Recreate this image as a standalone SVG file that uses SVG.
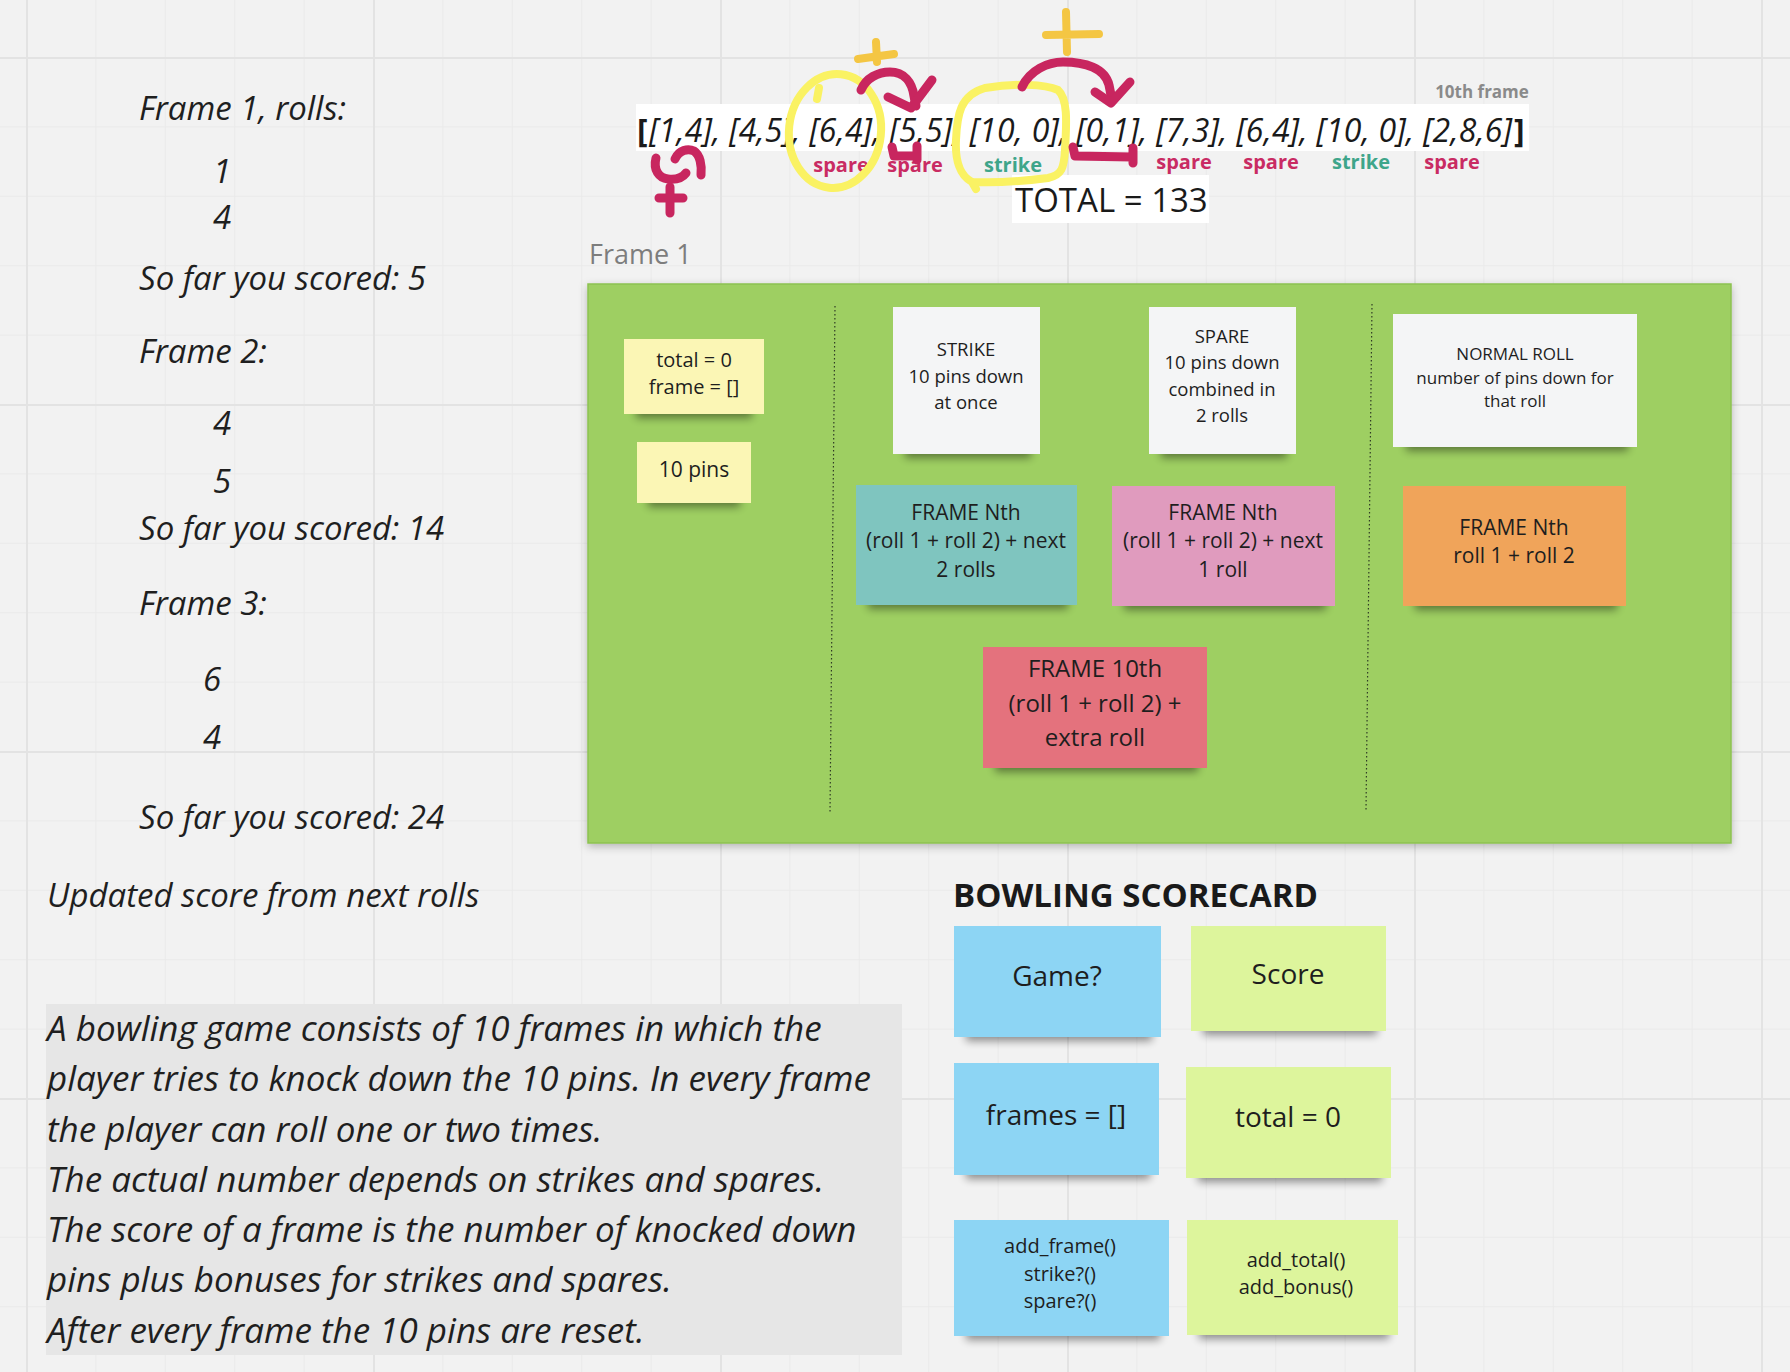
<svg xmlns="http://www.w3.org/2000/svg" width="1790" height="1372" viewBox="0 0 1790 1372">
<defs>
  <pattern id="gridMinor" patternUnits="userSpaceOnUse" x="26" y="57" width="69.4" height="69.4">
    <path d="M0,0.5 H69.4 M0.5,0 V69.4" stroke="#eaeaea" stroke-width="1.2" fill="none"/>
  </pattern>
  <pattern id="gridMajor" patternUnits="userSpaceOnUse" x="26" y="57" width="347" height="347">
    <path d="M0,1 H347 M1,0 V347" stroke="#e3e3e3" stroke-width="2" fill="none"/>
  </pattern>
  <filter id="blur" x="-30%" y="-100%" width="160%" height="300%">
    <feGaussianBlur stdDeviation="4"/>
  </filter>
  <filter id="panelShadow" x="-5%" y="-5%" width="110%" height="110%">
    <feDropShadow dx="0" dy="3" stdDeviation="4" flood-color="#000" flood-opacity="0.25"/>
  </filter>
  <style>
    .hand{font-family:"Open Sans","Liberation Sans",sans-serif;font-style:italic;font-size:33px;fill:#1f1f1f}
    .desc{font-family:"Open Sans","Liberation Sans",sans-serif;font-style:italic;font-size:35px;fill:#1f1f1f}
    .nt{font-family:"Open Sans","Liberation Sans",sans-serif;text-anchor:middle;fill:#1e1e1e}
    .sh{fill:#000;opacity:0.42;filter:url(#blur)}
    .yel{fill:#fbf6b5}
    .wht{fill:#f4f5f6}
    .teal{fill:#7fc5bf}
    .pink{fill:#e09bbe}
    .orng{fill:#f0a45a}
    .red{fill:#e4727d}
    .blue{fill:#8dd5f4}
    .lime{fill:#ddf59c}
    .lbl{font-family:"Open Sans","Liberation Sans",sans-serif;font-weight:bold;font-size:20px;text-anchor:middle}
    .spare{fill:#c92b63}
    .strike{fill:#3ea58a}
    .pinkStroke{fill:none;stroke:#c8265f;stroke-width:9;stroke-linecap:round;stroke-linejoin:round}
    .yelStroke{fill:none;stroke:#faf263;stroke-width:8;stroke-linecap:round;stroke-linejoin:round}
    .plusStroke{fill:none;stroke:#f4c643;stroke-width:8;stroke-linecap:round}
    .divider{fill:none;stroke:#2f3b25;stroke-width:1.2;stroke-dasharray:1.5 2.5}
    .arr{font-family:"Open Sans","Liberation Sans",sans-serif;font-size:32px;fill:#1a1a1a}
  </style>
</defs>

<!-- background -->
<rect x="0" y="0" width="1790" height="1372" fill="#f2f2f2"/>
<rect x="0" y="0" width="1790" height="1372" fill="url(#gridMinor)"/>
<rect x="0" y="0" width="1790" height="1372" fill="url(#gridMajor)"/>

<!-- left notes -->
<g id="rolls-notes">
  <text class="hand" x="139" y="120">Frame 1, rolls:</text>
  <text class="hand" x="213" y="183">1</text>
  <text class="hand" x="213" y="229">4</text>
  <text class="hand" x="139" y="290">So far you scored: 5</text>
  <text class="hand" x="139" y="363">Frame 2:</text>
  <text class="hand" x="213" y="435">4</text>
  <text class="hand" x="213" y="493">5</text>
  <text class="hand" x="139" y="540">So far you scored: 14</text>
  <text class="hand" x="139" y="615">Frame 3:</text>
  <text class="hand" x="203" y="691">6</text>
  <text class="hand" x="203" y="749">4</text>
  <text class="hand" x="139" y="829">So far you scored: 24</text>
  <text class="hand" x="47" y="907">Updated score from next rolls</text>
</g>

<!-- description -->
<g id="description">
  <rect x="46" y="1004" width="856" height="351" fill="#e6e6e6"/>
  <text class="desc" x="47" y="1041">A bowling game consists of 10 frames in which the</text>
  <text class="desc" x="47" y="1091">player tries to knock down the 10 pins. In every frame</text>
  <text class="desc" x="47" y="1142">the player can roll one or two times.</text>
  <text class="desc" x="47" y="1192">The actual number depends on strikes and spares.</text>
  <text class="desc" x="47" y="1242">The score of a frame is the number of knocked down</text>
  <text class="desc" x="47" y="1292">pins plus bonuses for strikes and spares.</text>
  <text class="desc" x="47" y="1343">After every frame the 10 pins are reset.</text>
</g>

<!-- rolls array -->
<g id="rolls-array">
  <rect x="636" y="104" width="893" height="47" fill="#ffffff"/>
  <text class="arr" x="637" y="142" font-weight="bold">[</text>
  <text class="arr" x="649" y="142" font-style="italic" textLength="863" lengthAdjust="spacing">[1,4], [4,5], [6,4], [5,5], [10, 0], [0,1], [7,3], [6,4], [10, 0], [2,8,6]</text>
  <text class="arr" x="1514" y="142" font-weight="bold">]</text>
  <text x="1482" y="98" style="font-family:'Open Sans','Liberation Sans',sans-serif;font-size:17px;font-weight:bold;fill:#8a8a8a;text-anchor:middle">10th frame</text>
  <text class="lbl spare" x="841" y="172">spare</text>
  <text class="lbl spare" x="915" y="172">spare</text>
  <text class="lbl strike" x="1013" y="172">strike</text>
  <text class="lbl spare" x="1184" y="169">spare</text>
  <text class="lbl spare" x="1271" y="169">spare</text>
  <text class="lbl strike" x="1361" y="169">strike</text>
  <text class="lbl spare" x="1452" y="169">spare</text>
</g>

<g id="total">
  <rect x="1012" y="175" width="197" height="48" fill="#ffffff"/>
  <text x="1015" y="212" style="font-family:'Open Sans','Liberation Sans',sans-serif;font-size:33px;fill:#1a1a1a">TOTAL = 133</text>
</g>

<!-- annotations -->
<g id="highlights">
  <ellipse class="yelStroke" cx="835" cy="131" rx="46" ry="57" transform="rotate(6 835 131)"/>
  <path class="yelStroke" d="M817,99 L819,88"/>
  <path class="yelStroke" d="M985,88 C1015,83 1045,84 1058,90 C1069,100 1066,128 1065,150 C1064,168 1062,175 1048,178 C1025,181 995,183 972,182 C960,176 955,160 956,140 C957,115 960,95 985,88 M972,182 L976,189"/>
  <path class="plusStroke" d="M858,59 L894,54 M876,42 L877,62"/>
  <path class="plusStroke" d="M1046,35 L1099,34 M1066,12 L1067,52"/>
</g>

<g id="connectors">
  <path class="pinkStroke" d="M861,90 C866,78 878,72 890,72 C904,72 912,82 914,96 L916,106"/>
  <path class="pinkStroke" d="M888,97 L911,108 L932,80"/>
  <path class="pinkStroke" d="M892,147 L894,156 L917,156 M917,146 L917,160"/>
  <path class="pinkStroke" d="M1022,87 C1030,70 1048,62 1063,62 C1085,62 1105,68 1109,85 L1112,100"/>
  <path class="pinkStroke" d="M1095,92 L1111,103 L1130,82"/>
  <path class="pinkStroke" d="M1073,147 L1075,156 L1132,157 M1133,148 L1133,163"/>
  <path class="pinkStroke" d="M656,158 C653,170 659,178 668,179 C677,180 683,177 686,173"/>
  <path class="pinkStroke" d="M675,159 C679,150 688,148 694,151 C700,155 702,165 701,175"/>
  <path class="pinkStroke" d="M670,187 L670,213 M659,198 L683,198"/>
</g>

<!-- frame panel -->
<text x="589" y="264" style="font-family:'Open Sans','Liberation Sans',sans-serif;font-size:27px;fill:#7d7d7d">Frame 1</text>
<g id="frame-panel">
  <rect x="588" y="284" width="1143" height="559" fill="#9ecf62" stroke="#8cc250" stroke-width="1.5" filter="url(#panelShadow)"/>
  <path class="divider" d="M835,306 L830,813"/>
  <path class="divider" d="M1372,304 L1366,811"/>
</g>

<g id="note-init">
  <rect class="sh" x="636" y="404" width="116" height="14"/>
  <rect class="yel" x="624" y="339" width="140" height="75"/>
  <text class="nt" x="694" y="367" font-size="20">total = 0</text>
  <text class="nt" x="694" y="394" font-size="20">frame = []</text>
</g>
<g id="note-pins">
  <rect class="sh" x="648" y="493" width="92" height="14"/>
  <rect class="yel" x="637" y="442" width="114" height="61"/>
  <text class="nt" x="694" y="477" font-size="21">10 pins</text>
</g>
<g id="note-strike">
  <rect class="sh" x="905" y="443" width="126" height="15"/>
  <rect class="wht" x="893" y="307" width="147" height="147"/>
  <text class="nt" x="966" y="356" font-size="18.5">STRIKE</text>
  <text class="nt" x="966" y="383" font-size="18.5">10 pins down</text>
  <text class="nt" x="966" y="409" font-size="18.5">at once</text>
</g>
<g id="note-spare">
  <rect class="sh" x="1161" y="443" width="126" height="15"/>
  <rect class="wht" x="1149" y="307" width="147" height="147"/>
  <text class="nt" x="1222" y="343" font-size="18.5">SPARE</text>
  <text class="nt" x="1222" y="369" font-size="18.5">10 pins down</text>
  <text class="nt" x="1222" y="396" font-size="18.5">combined in</text>
  <text class="nt" x="1222" y="422" font-size="18.5">2 rolls</text>
</g>
<g id="note-normal">
  <rect class="sh" x="1406" y="436" width="222" height="15"/>
  <rect class="wht" x="1393" y="314" width="244" height="133"/>
  <text class="nt" x="1515" y="360" font-size="17">NORMAL ROLL</text>
  <text class="nt" x="1515" y="384" font-size="17">number of pins down for</text>
  <text class="nt" x="1515" y="407" font-size="17">that roll</text>
</g>
<g id="note-strike-score">
  <rect class="sh" x="868" y="594" width="200" height="15"/>
  <rect class="teal" x="856" y="485" width="221" height="120"/>
  <text class="nt" x="966" y="520" font-size="21">FRAME Nth</text>
  <text class="nt" x="966" y="548" font-size="21">(roll 1 + roll 2) + next</text>
  <text class="nt" x="966" y="577" font-size="21">2 rolls</text>
</g>
<g id="note-spare-score">
  <rect class="sh" x="1124" y="595" width="202" height="15"/>
  <rect class="pink" x="1112" y="486" width="223" height="120"/>
  <text class="nt" x="1223" y="520" font-size="21">FRAME Nth</text>
  <text class="nt" x="1223" y="548" font-size="21">(roll 1 + roll 2) + next</text>
  <text class="nt" x="1223" y="577" font-size="21">1 roll</text>
</g>
<g id="note-normal-score">
  <rect class="sh" x="1415" y="595" width="202" height="15"/>
  <rect class="orng" x="1403" y="486" width="223" height="120"/>
  <text class="nt" x="1514" y="535" font-size="21">FRAME Nth</text>
  <text class="nt" x="1514" y="563" font-size="21">roll 1 + roll 2</text>
</g>
<g id="note-tenth">
  <rect class="sh" x="995" y="757" width="203" height="15"/>
  <rect class="red" x="983" y="647" width="224" height="121"/>
  <text class="nt" x="1095" y="677" font-size="24">FRAME 10th</text>
  <text class="nt" x="1095" y="712" font-size="24">(roll 1 + roll 2) +</text>
  <text class="nt" x="1095" y="746" font-size="24">extra roll</text>
</g>

<!-- scorecard -->
<text x="953" y="907" style="font-family:'Open Sans','Liberation Sans',sans-serif;font-size:33px;font-weight:bold;fill:#1a1a1a">BOWLING SCORECARD</text>
<g id="note-game">
  <rect class="sh" x="966" y="1026" width="186" height="15"/>
  <rect class="blue" x="954" y="926" width="207" height="111"/>
  <text class="nt" x="1057" y="986" font-size="28">Game?</text>
</g>
<g id="note-score">
  <rect class="sh" x="1203" y="1020" width="174" height="15"/>
  <rect class="lime" x="1191" y="926" width="195" height="105"/>
  <text class="nt" x="1288" y="984" font-size="28">Score</text>
</g>
<g id="note-frames">
  <rect class="sh" x="966" y="1164" width="184" height="15"/>
  <rect class="blue" x="954" y="1063" width="205" height="112"/>
  <text class="nt" x="1056" y="1125" font-size="28">frames = []</text>
</g>
<g id="note-total">
  <rect class="sh" x="1198" y="1167" width="184" height="15"/>
  <rect class="lime" x="1186" y="1067" width="205" height="111"/>
  <text class="nt" x="1288" y="1127" font-size="28">total = 0</text>
</g>
<g id="note-game-methods">
  <rect class="sh" x="966" y="1325" width="194" height="15"/>
  <rect class="blue" x="954" y="1220" width="215" height="116"/>
  <text class="nt" x="1060" y="1253" font-size="20">add_frame()</text>
  <text class="nt" x="1060" y="1281" font-size="20">strike?()</text>
  <text class="nt" x="1060" y="1308" font-size="20">spare?()</text>
</g>
<g id="note-score-methods">
  <rect class="sh" x="1199" y="1324" width="190" height="15"/>
  <rect class="lime" x="1187" y="1220" width="211" height="115"/>
  <text class="nt" x="1296" y="1267" font-size="20">add_total()</text>
  <text class="nt" x="1296" y="1294" font-size="20">add_bonus()</text>
</g>
</svg>
